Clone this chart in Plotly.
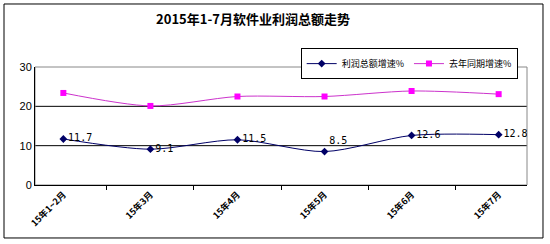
import plotly.graph_objects as go

categories = ["15年1~2月", "15年3月", "15年4月", "15年5月", "15年6月", "15年7月"]
profit_growth = [11.7, 9.1, 11.5, 8.5, 12.6, 12.8]
last_year_growth = [23.4, 20.1, 22.5, 22.5, 23.9, 23.1]
profit_labels = ["11.7", "9.1", "11.5", "8.5", "12.6", "12.8"]
label_positions = ["middle right", "middle right", "middle right", "top right", "middle right", "middle right"]
y_ticks = [0, 10, 20, 30]

fig = go.Figure()
fig.add_trace(go.Scatter(
    x=categories, y=profit_growth, name="利润总额增速%",
    mode="lines+markers+text",
    line=dict(color="#000066", width=1, shape="spline", smoothing=0.8),
    marker=dict(symbol="diamond", size=6, color="#000066"),
    text=profit_labels, textposition=label_positions,
    textfont=dict(family="DejaVu Sans Mono", size=10, color="#000000"),
))
fig.add_trace(go.Scatter(
    x=categories, y=last_year_growth, name="去年同期增速%",
    mode="lines+markers",
    line=dict(color="#CC33CC", width=1, shape="spline", smoothing=0.8),
    marker=dict(symbol="square", size=6, color="#FF00FF"),
))

for v in y_ticks[1:-1]:
    fig.add_shape(type="line", xref="paper", yref="y", x0=0, x1=1, y0=v, y1=v,
                  line=dict(color="#000000", width=1), layer="below")
# plot area frame (grey top/right)
fig.add_shape(type="rect", xref="paper", yref="paper", x0=0, x1=1, y0=0, y1=1,
              line=dict(color="#888888", width=1), layer="below")
# outer chart border
fig.add_shape(type="rect", xref="paper", yref="paper", x0=-0.063, x1=1.0325, y0=-0.449, y1=1.534,
              line=dict(color="#000000", width=1))

fig.update_layout(
    width=550, height=244,
    margin=dict(l=35, r=23, t=67, b=59),
    paper_bgcolor="white", plot_bgcolor="white",
    font=dict(family="Noto Sans CJK SC", size=11, color="#000000"),
    title=dict(text="<b>2015年1-7月软件业利润总额走势</b>", x=0.46, xanchor="center",
               y=0.92, yanchor="middle", font=dict(family="Noto Sans CJK SC", size=13)),
    showlegend=True,
    legend=dict(orientation="h", x=0.54, xanchor="left", y=1.16, yanchor="top",
                bordercolor="#000000", borderwidth=1, bgcolor="white",
                font=dict(size=9), itemwidth=30, tracegroupgap=0),
    xaxis=dict(type="category", tickson="boundaries", ticks="outside", ticklen=4,
               tickcolor="#000000", showline=True, linecolor="#000000", linewidth=1,
               showgrid=False, tickangle=-45,
               tickfont=dict(family="Noto Sans CJK SC", size=9, weight="bold")),
    yaxis=dict(range=[0, 30], tickvals=y_ticks, showgrid=False, showline=True,
               linecolor="#000000", linewidth=1, ticks="", zeroline=False,
               tickfont=dict(family="Liberation Sans", size=11)),
)

fig.write_html("out.html")
